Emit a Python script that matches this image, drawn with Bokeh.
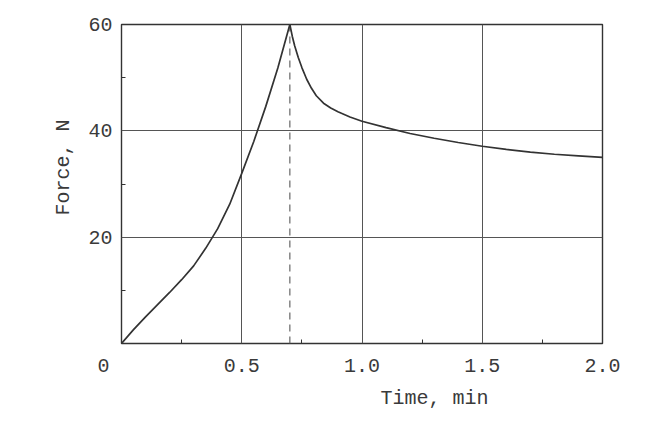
from bokeh.plotting import figure
from bokeh.models import FixedTicker, Range1d, Title
from bokeh.embed import file_html
from bokeh.resources import INLINE

# data
t_rise = [0, 0.05, 0.1, 0.15, 0.2, 0.25, 0.3, 0.35, 0.4, 0.45, 0.5, 0.55, 0.6, 0.65, 0.7]
f_rise = [0, 2.6, 5.0, 7.3, 9.6, 12.0, 14.6, 17.9, 21.6, 26.2, 32.0, 38.0, 44.6, 51.8, 60]
t_decay = [0.7, 0.71, 0.72, 0.735, 0.75, 0.77, 0.79, 0.81, 0.84, 0.87, 0.9, 0.95, 1.0,
           1.1, 1.2, 1.3, 1.4, 1.5, 1.6, 1.7, 1.8, 1.9, 2.0]
f_decay = [60, 57.8, 56.0, 53.8, 51.9, 49.7, 48.0, 46.6, 45.2, 44.3, 43.6, 42.6, 41.8,
           40.6, 39.5, 38.6, 37.8, 37.1, 36.5, 36.0, 35.6, 35.3, 35.0]
t_peak = 0.7
f_peak = 60

x_ticks = [0, 0.5, 1.0, 1.5, 2.0]
x_tick_labels = ["0\u00a0\u00a0\u00a0", "0.5", "1.0", "1.5", "2.0"]
x_minor = [0.25, 0.75, 1.25, 1.75]
y_ticks = [20, 40, 60]
y_tick_labels = ["20", "40", "60"]
y_minor = [10, 30, 50]
x_title = "Time, min"
y_title = "Force, N"

FONT = "Liberation Mono"
FS = "20px"
TXT = "#3a3a3a"
LINE = "#333333"
W, H = 646, 413

p = figure(width=W, height=H, output_backend="svg", toolbar_location=None,
           x_range=Range1d(0, 2), y_range=Range1d(0, 60),
           min_border_left=121, min_border_right=44, min_border_top=24, min_border_bottom=70)
p.background_fill_color = "white"
p.border_fill_color = "white"
p.outline_line_color = LINE
p.outline_line_width = 1.4

p.xaxis.ticker = FixedTicker(ticks=x_ticks, minor_ticks=x_minor)
p.yaxis.ticker = FixedTicker(ticks=y_ticks, minor_ticks=y_minor)
p.xaxis.major_label_overrides = {t: l for t, l in zip(x_ticks, x_tick_labels)}
p.yaxis.major_label_overrides = {t: l for t, l in zip(y_ticks, y_tick_labels)}
for ax in (p.xaxis, p.yaxis):
    ax.axis_line_color = None
    ax.major_tick_line_color = None
    ax.major_tick_in = 0
    ax.major_tick_out = 0
    ax.minor_tick_in = 4
    ax.minor_tick_out = 0
    ax.minor_tick_line_color = LINE
    ax.major_label_text_font = FONT
    ax.major_label_text_font_size = FS
    ax.major_label_text_color = TXT
p.xaxis.major_label_standoff = 11
p.yaxis.major_label_standoff = 9

p.xgrid.ticker = FixedTicker(ticks=[0.5, 1.0, 1.5])
p.ygrid.ticker = FixedTicker(ticks=[20, 40])
for g in (p.xgrid, p.ygrid):
    g.grid_line_color = "#555555"
    g.grid_line_width = 1

p.segment(x0=[t_peak], y0=[0], x1=[t_peak], y1=[f_peak], line_color="#666666",
          line_width=1.2, line_dash="7 5")
p.line(t_rise, f_rise, line_color=LINE, line_width=1.7)
p.line(t_decay, f_decay, line_color=LINE, line_width=1.7)

p.add_layout(Title(text=x_title, align="left", offset=259, standoff=8,
                   text_font=FONT, text_font_size=FS, text_color=TXT,
                   text_font_style="normal"), "below")
p.add_layout(Title(text=y_title, align="left", offset=128, standoff=22,
                   text_font=FONT, text_font_size=FS, text_color=TXT,
                   text_font_style="normal"), "left")

open("out.html", "w").write(file_html(p, INLINE))
